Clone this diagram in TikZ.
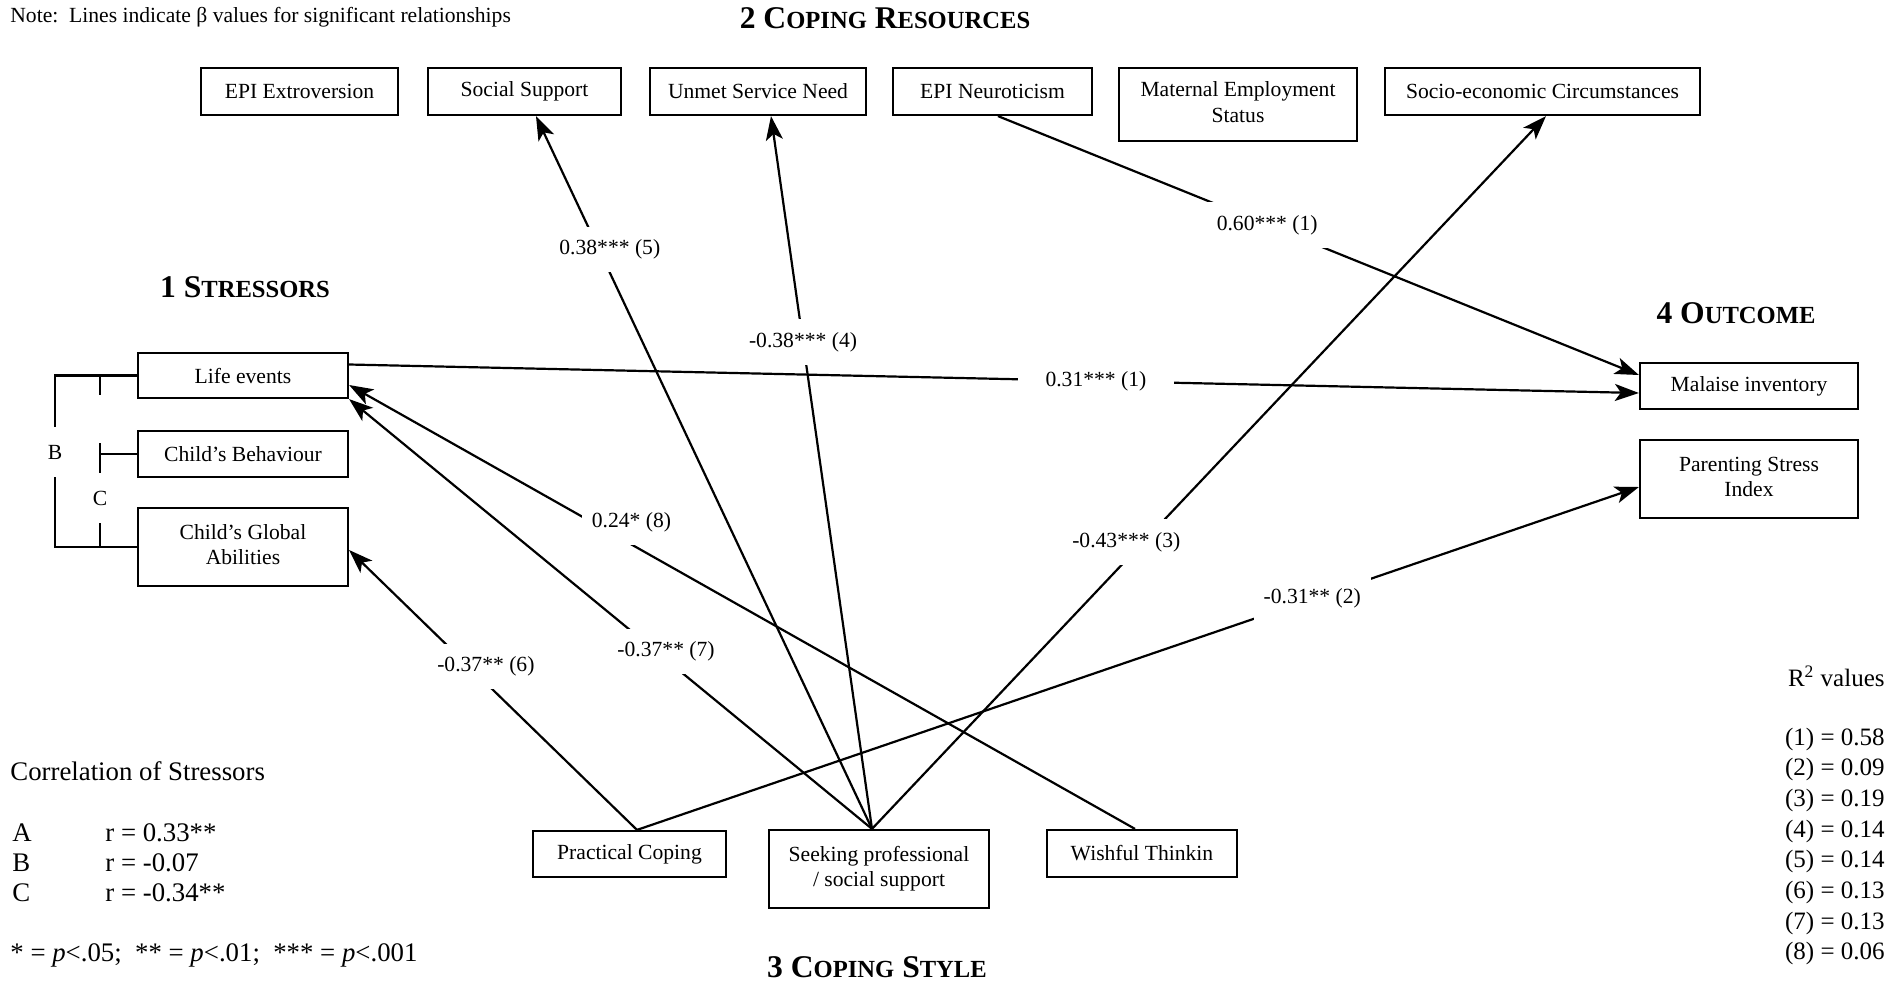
\documentclass[tikz,border=0pt]{standalone}
\usepackage{fontspec}
\setmainfont{Liberation Serif}
\usetikzlibrary{arrows.meta,calc}
\newcommand\bxf{\fontsize{10.8}{12.8}\selectfont}
\newcommand\hdf{\fontsize{15.8}{18}\selectfont\bfseries}
\newcommand\smc[1]{{\fontsize{12.3}{14}\selectfont #1}}
\newcommand\crf{\fontsize{13.4}{15}\selectfont}
\newcommand\rsf{\fontsize{12.5}{15}\selectfont}
\newcommand\twoln[2]{\raisebox{1.8pt}{\begin{tabular}{@{}c@{}}#1\\#2\end{tabular}}}
\begin{document}
\begin{tikzpicture}[x=0.5pt,y=-0.5pt,
  box/.style={draw, line width=1.1pt, align=center, font=\bxf, inner sep=0pt},
  conn/.style={line width=1.1pt},
  arr/.style={conn, -{Stealth[length=12pt,width=8.5pt,inset=3pt]}},
  lbl/.style={fill=white, font=\bxf, inner xsep=5pt, inner ysep=6.5pt},
  head/.style={font=\hdf, inner sep=0pt},
  txt/.style={inner sep=0pt, anchor=west},
  rtxt/.style={inner sep=0pt, anchor=east, font=\rsf},
  brl/.style={font=\bxf, inner sep=0pt, minimum height=25pt}]
\fill[white] (0,0) rectangle (1903,1002);
\useasboundingbox (0,0) rectangle (1903,1002);

% coping resources
\node[box, minimum width=98.5pt, minimum height=23.5pt] (ext) at (299.5,91.5) {EPI Extroversion};
\node[box, minimum width=96.5pt, minimum height=23.5pt] (soc) at (524.5,91.5) {Social Support};
\node[box, minimum width=108pt, minimum height=23.5pt] (unm) at (758,91.5) {Unmet Service Need};
\node[box, minimum width=99.5pt, minimum height=23.5pt] (neu) at (992.5,91.5) {EPI Neuroticism};
\node[box, minimum width=119pt, minimum height=36.5pt] (mat) at (1238,104.5) {\twoln{Maternal Employment}{Status}};
\node[box, minimum width=157.5pt, minimum height=23.5pt] (soe) at (1542.5,91.5) {Socio-economic Circumstances};

% stressors
\node[box, minimum width=105pt, minimum height=22.5pt] (life) at (243,375.5) {Life events};
\node[box, minimum width=105pt, minimum height=23pt] (beh) at (243,454) {Child's Behaviour};
\node[box, minimum width=105pt, minimum height=39pt] (glob) at (243,547) {\twoln{Child's Global}{Abilities}};

% outcome
\node[box, minimum width=109pt, minimum height=23pt] (mal) at (1749,386) {Malaise inventory};
\node[box, minimum width=109pt, minimum height=39pt] (par) at (1749,479) {\twoln{Parenting Stress}{Index}};

% coping style
\node[box, minimum width=96.5pt, minimum height=23pt] (prac) at (629.5,854) {Practical Coping};
\node[box, minimum width=110pt, minimum height=39pt] (seek) at (879,869) {\twoln{Seeking professional}{/ social support}};
\node[box, minimum width=95pt, minimum height=23.5pt] (wish) at (1142,853.5) {Wishful Thinkin};

% headings
\node[head] (h2) at (885,18) {2 C\smc{OPING} R\smc{ESOURCES}};
\node[head] (h1) at (245,287) {1 S\smc{TRESSORS}};
\node[head] (h4) at (1736,313) {4 O\smc{UTCOME}};
\node[head] (h3) at (877,967) {3 C\smc{OPING} S\smc{TYLE}};

% connectors
\draw[arr] ($(neu.south)+(5.5,0)$) -- node[lbl,pos=0.42]{0.60*** (1)} ($(mal.west)+(0,-11)$);
\draw[arr] ($(prac.north)+(7.5,0)$) -- node[lbl,pos=0.674]{-0.31** (2)} ($(par.west)+(0,8)$);
\draw[arr] ($(seek.north)+(-7,0)$) -- node[lbl,pos=0.4025,xshift=-8.5pt]{-0.43*** (3)} ($(soe.south)+(3.5,0)$);
\draw[arr] ($(seek.north)+(-7,0)$) -- node[lbl,pos=0.683]{-0.38*** (4)} ($(unm.south)+(13,0)$);
\draw[arr] ($(seek.north)+(-7,0)$) -- node[lbl,pos=0.813,xshift=5.5pt]{0.38*** (5)} ($(soc.south)+(11.5,0)$);
\draw[arr] ($(prac.north)+(7.5,0)$) -- node[lbl,pos=0.584,xshift=8.5pt]{-0.37** (6)} ($(glob.east)+(0,3)$);
\draw[arr] ($(seek.north)+(-7,0)$) -- node[lbl,pos=0.413,xshift=5pt]{-0.37** (7)} (life.south east);
\draw[arr] ($(wish.north)+(-7,0)$) -- node[lbl,pos=0.6815,xshift=16pt,yshift=2pt]{0.24* (8)} ($(life.east)+(0,9.5)$);
\draw[arr] ($(life.east)+(0,-11)$) -- node[lbl,pos=0.579,inner xsep=14pt]{0.31*** (1)} ($(mal.west)+(0,7)$);

% stressor correlation brackets
\coordinate (bl) at (55,0);
\coordinate (cl) at (100,0);
\node[brl] (B) at (55,452) {B};
\node[brl] (C) at (100,498) {C};
\draw[conn] (life.west) -- (life.west -| bl) -- (B.north);
\draw[conn] (B.south) -- (glob.west -| bl) -- (glob.west);
\draw[conn] (life.west -| cl) -- ++(0,19);
\draw[conn] ($(beh.west -| cl)+(0,-11)$) -- (C.north);
\draw[conn] (beh.west -| cl) -- (beh.west);
\draw[conn] (C.south) -- (glob.west -| cl);

% texts
\node[txt, font=\bxf] (note) at (10,17) {Note:\ \ Lines indicate β values for significant relationships};
\node[txt, font=\crf] (corr) at (10,771) {Correlation of Stressors};
\node[txt, font=\crf] (ra) at (12,833) {A};
\node[txt, font=\crf] (va) at (105,833) {r = 0.33**};
\node[txt, font=\crf] (rb) at (12,863) {B};
\node[txt, font=\crf] (vb) at (105,863) {r = -0.07};
\node[txt, font=\crf] (rc) at (12,893) {C};
\node[txt, font=\crf] (vc) at (105,893) {r = -0.34**};
\node[txt, font=\crf] (foot) at (10,955) {* = \textit{p}<.05;\ \ ** = \textit{p}<.01;\ \ *** = \textit{p}<.001};

\node[rtxt] (r2) at (1885,676) {R\textsuperscript{2} values};
\node[rtxt] (q1) at (1885,739) {(1) = 0.58};
\node[rtxt] (q2) at (1885,769.7) {(2) = 0.09};
\node[rtxt] (q3) at (1885,800.4) {(3) = 0.19};
\node[rtxt] (q4) at (1885,831.1) {(4) = 0.14};
\node[rtxt] (q5) at (1885,861.8) {(5) = 0.14};
\node[rtxt] (q6) at (1885,892.5) {(6) = 0.13};
\node[rtxt] (q7) at (1885,923.2) {(7) = 0.13};
\node[rtxt] (q8) at (1885,953.9) {(8) = 0.06};
\end{tikzpicture}
\end{document}
